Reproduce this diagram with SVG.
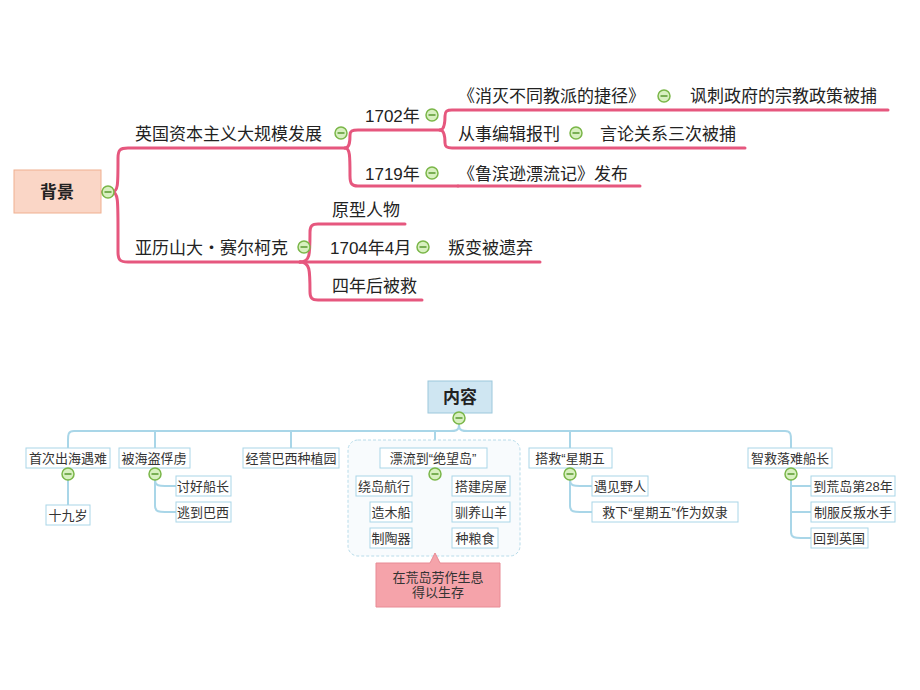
<svg xmlns="http://www.w3.org/2000/svg" width="920" height="690" viewBox="0 0 920 690">
<defs>
<style>
.t{font-family:"Liberation Sans","Noto Sans CJK SC",sans-serif;font-size:17px;fill:#222}
.s{font-family:"Liberation Sans","Noto Sans CJK SC",sans-serif;font-size:13px;fill:#333}
.p{fill:none;stroke:#e6577e;stroke-width:3;stroke-linecap:round}
.b{fill:none;stroke:#a9d6e8;stroke-width:2}
.nb{fill:#fff;stroke:#a9d6e8;stroke-width:1}
.tg{fill:#d8f0c0;stroke:#7ab648;stroke-width:1.5}
</style>
<g id="tog"><circle r="6" class="tg"/><line x1="-3.5" x2="3.5" y1="0" y2="0" stroke="#5a9a30" stroke-width="1.5"/></g>
</defs>
<rect width="920" height="690" fill="#fff"/>
<g id="connectors">
<path d="M101 192 H112 C118 192 118 185 118 160 V158 C118 150 120 148 128 148 H345" class="p" stroke-width="5"/>
<path d="M112 192 C118 192 118 200 118 230 V252 C118 260 120 262 128 262 H300" class="p" stroke-width="5"/>
<path d="M345 148 C350 148 350 140 350 135 C350 131 352 130 358 130 H440" class="p"/>
<path d="M345 148 C350 148 350 156 350 176 C350 184 352 186 358 186 H458" class="p"/>
<path d="M440 130 C445 130 445 120 445 116 C445 111 447 110 452 110 H888" class="p"/>
<path d="M440 130 C445 130 445 140 445 143 C445 147 447 148 452 148 H745" class="p"/>
<path d="M458 186 H640" class="p"/>
<path d="M300 262 C310 262 310 255 310 232 C310 226 312 224 318 224 H405" class="p"/>
<path d="M300 262 H540" class="p"/>
<path d="M300 262 C310 262 310 270 310 292 C310 298 312 300 318 300 H422" class="p"/>
<path d="M459 413 V425 C459 431 455 431 450 431 H74 C68 431 68 435 68 440 V448 M459 425 C459 431 463 431 468 431 H785 C791 431 791 435 791 440 V448 M155 431 V448 M291 431 V448 M435 431 V448 M570 431 V448" class="b"/>
<path d="M68 468 V505 M155 468 V480 C155 486 160 486 165 486 H176 M155 480 V506 C155 512 160 512 165 512 H176" class="b"/>
<path d="M435 468 V542 C435 538 430 538 425 538 H412 M435 486 H412 M435 512 H412 M435 486 H452 M435 512 H452 M435 538 H452" class="b"/>
<path d="M570 468 V480 C570 486 575 486 580 486 H592 M570 480 V506 C570 512 575 512 580 512 H592" class="b"/>
<path d="M791 468 V532 C791 538 796 538 801 538 H811 M791 486 H811 M791 512 H811" class="b"/>
</g>
<g id="bg"><rect x="14" y="170" width="87" height="43" fill="#fad6c6" stroke="#f0b090"/><text x="57" y="198" class="t" font-size="19" font-weight="bold" text-anchor="middle">背景</text><use href="#tog" x="108" y="192"/></g>
<g id="n1"><text x="135" y="140" class="t">英国资本主义大规模发展</text><use href="#tog" x="341" y="133"/></g>
<g id="n2"><text x="135" y="254" class="t">亚历山大・赛尔柯克</text><use href="#tog" x="304" y="247"/></g>
<g id="n3"><text x="365" y="122" class="t">1702年</text><use href="#tog" x="432" y="115"/></g>
<g id="n4"><text x="365" y="180" class="t">1719年</text><use href="#tog" x="432" y="173"/></g>
<g id="n5"><text x="458" y="102" class="t">《消灭不同教派的捷径》</text><use href="#tog" x="664" y="96"/></g>
<g id="n6"><text x="690" y="102" class="t">讽刺政府的宗教政策被捕</text></g>
<g id="n7"><text x="458" y="140" class="t">从事编辑报刊</text><use href="#tog" x="576" y="133"/></g>
<g id="n8"><text x="600" y="140" class="t">言论关系三次被捕</text></g>
<g id="n9"><text x="458" y="180" class="t">《鲁滨逊漂流记》发布</text></g>
<g id="n10"><text x="332" y="216" class="t">原型人物</text></g>
<g id="n11"><text x="330" y="254" class="t">1704年4月</text><use href="#tog" x="423" y="247"/></g>
<g id="n12"><text x="448" y="254" class="t">叛变被遗弃</text></g>
<g id="n13"><text x="332" y="292" class="t">四年后被救</text></g>
<g id="cloud"><rect x="348" y="440" width="172" height="116" rx="10" fill="#f8fbfd" stroke="#b8dcea" stroke-dasharray="3 2"/></g>
<g id="nr"><rect x="428" y="381" width="64" height="32" fill="#cfe6f2" stroke="#9cc8dc"/><text x="460" y="403" class="t" font-size="15" font-weight="bold" text-anchor="middle">内容</text><use href="#tog" x="459" y="418"/></g>
<g id="c1"><rect x="26" y="448" width="84" height="20" class="nb"/><text x="68" y="463" class="s" text-anchor="middle">首次出海遇难</text><use href="#tog" x="68" y="474"/></g>
<g id="c1a"><rect x="46" y="505" width="44" height="20" class="nb"/><text x="68" y="520" class="s" text-anchor="middle">十九岁</text></g>
<g id="c2"><rect x="119" y="448" width="71" height="20" class="nb"/><text x="154" y="463" class="s" text-anchor="middle">被海盗俘虏</text><use href="#tog" x="155" y="474"/></g>
<g id="c2a"><rect x="176" y="476" width="55" height="20" class="nb"/><text x="203" y="491" class="s" text-anchor="middle">讨好船长</text></g>
<g id="c2b"><rect x="176" y="502" width="55" height="20" class="nb"/><text x="203" y="517" class="s" text-anchor="middle">逃到巴西</text></g>
<g id="c3"><rect x="243" y="448" width="96" height="20" class="nb"/><text x="291" y="463" class="s" text-anchor="middle">经营巴西种植园</text></g>
<g id="c4"><rect x="380" y="448" width="107" height="20" class="nb"/><text x="433" y="463" class="s" text-anchor="middle">漂流到“绝望岛”</text><use href="#tog" x="435" y="474"/></g>
<g id="c4a"><rect x="356" y="476" width="56" height="20" class="nb"/><text x="384" y="491" class="s" text-anchor="middle">绕岛航行</text></g>
<g id="c4b"><rect x="370" y="502" width="42" height="20" class="nb"/><text x="391" y="517" class="s" text-anchor="middle">造木船</text></g>
<g id="c4c"><rect x="370" y="528" width="42" height="20" class="nb"/><text x="391" y="543" class="s" text-anchor="middle">制陶器</text></g>
<g id="c4d"><rect x="452" y="476" width="58" height="20" class="nb"/><text x="481" y="491" class="s" text-anchor="middle">搭建房屋</text></g>
<g id="c4e"><rect x="452" y="502" width="58" height="20" class="nb"/><text x="481" y="517" class="s" text-anchor="middle">驯养山羊</text></g>
<g id="c4f"><rect x="452" y="528" width="46" height="20" class="nb"/><text x="475" y="543" class="s" text-anchor="middle">种粮食</text></g>
<g id="callout"><path d="M376 563 H430 L435 553 L440 563 H500 V607 H376 Z" fill="#f5a3aa" stroke="#e88a94"/><text x="438" y="582" class="s" text-anchor="middle">在荒岛劳作生息</text><text x="438" y="597" class="s" text-anchor="middle">得以生存</text></g>
<g id="c5"><rect x="529" y="448" width="83" height="20" class="nb"/><text x="570" y="463" class="s" text-anchor="middle">搭救“星期五</text><use href="#tog" x="570" y="474"/></g>
<g id="c5a"><rect x="592" y="476" width="56" height="20" class="nb"/><text x="620" y="491" class="s" text-anchor="middle">遇见野人</text></g>
<g id="c5b"><rect x="592" y="502" width="146" height="20" class="nb"/><text x="665" y="517" class="s" text-anchor="middle">救下“星期五”作为奴隶</text></g>
<g id="c6"><rect x="748" y="448" width="84" height="20" class="nb"/><text x="790" y="463" class="s" text-anchor="middle">智救落难船长</text><use href="#tog" x="791" y="474"/></g>
<g id="c6a"><rect x="811" y="476" width="84" height="20" class="nb"/><text x="853" y="491" class="s" text-anchor="middle">到荒岛第28年</text></g>
<g id="c6b"><rect x="811" y="502" width="84" height="20" class="nb"/><text x="853" y="517" class="s" text-anchor="middle">制服反叛水手</text></g>
<g id="c6c"><rect x="811" y="528" width="57" height="20" class="nb"/><text x="839" y="543" class="s" text-anchor="middle">回到英国</text></g>
</svg>
